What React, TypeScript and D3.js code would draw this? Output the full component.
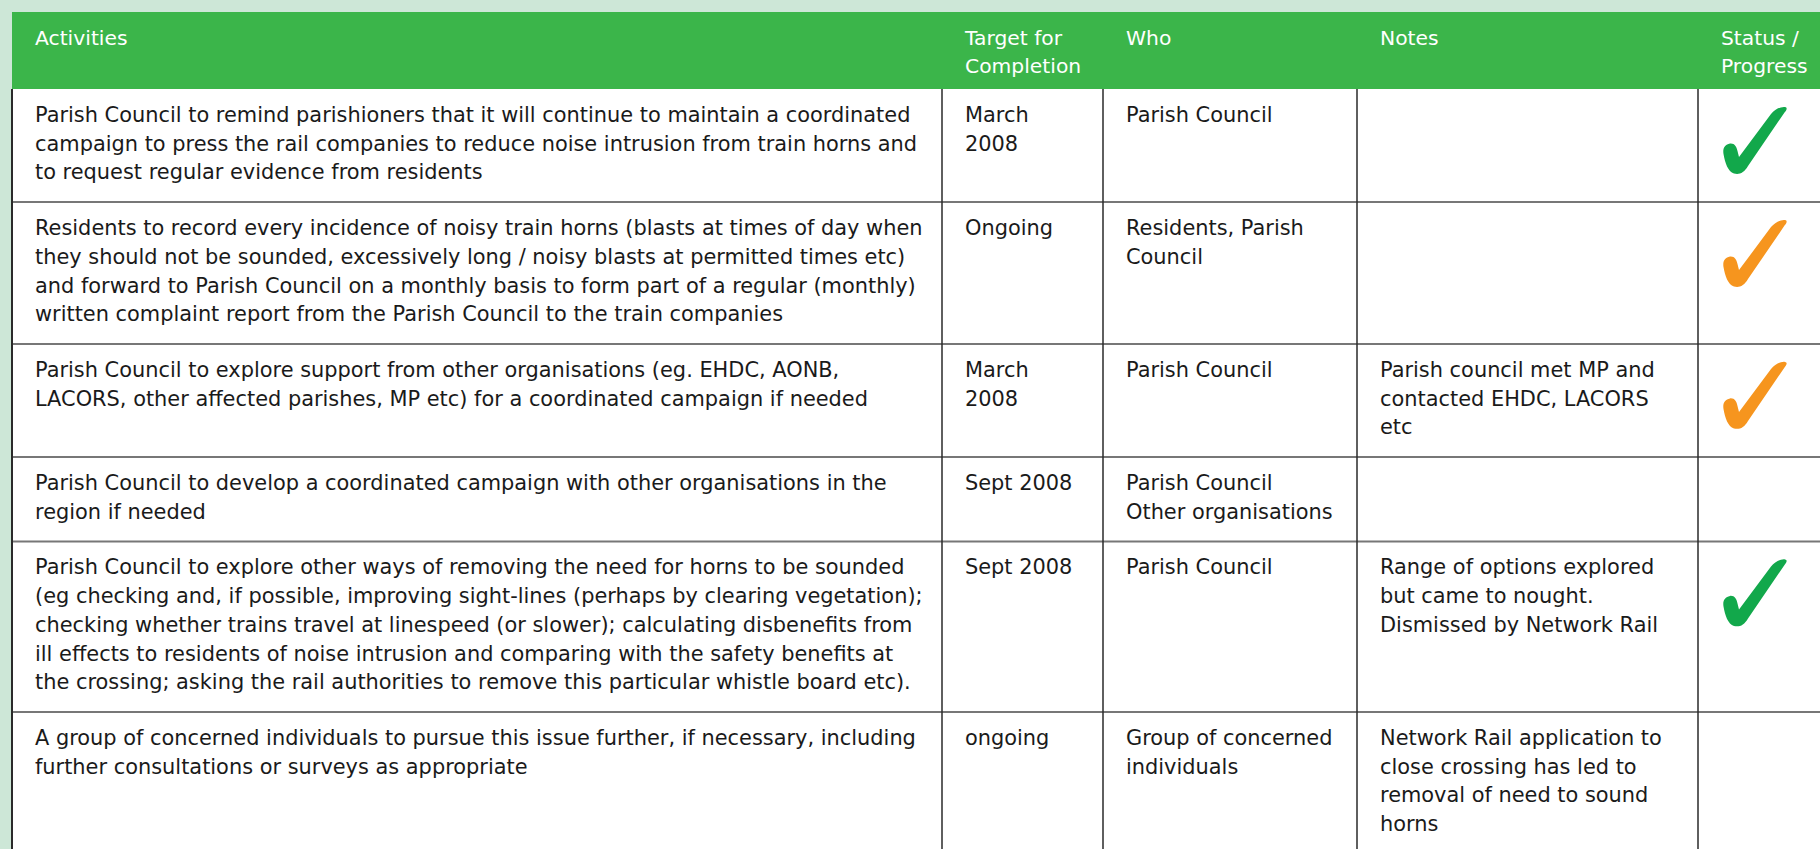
import React from "react";
import * as d3 from "d3";

// table content, line breaks as in the reference
const headers = [["Activities"], ["Target for", "Completion"], ["Who"], ["Notes"], ["Status /", "Progress"]];

const activities = [
  [
    "Parish Council to remind parishioners that it will continue to maintain a coordinated",
    "campaign to press the rail companies to reduce noise intrusion from train horns and",
    "to request regular evidence from residents",
  ],
  [
    "Residents to record every incidence of noisy train horns (blasts at times of day when",
    "they should not be sounded, excessively long / noisy blasts at permitted times etc)",
    "and forward to Parish Council on a monthly basis to form part of a regular (monthly)",
    "written complaint report from the Parish Council to the train companies",
  ],
  [
    "Parish Council to explore support from other organisations (eg. EHDC, AONB,",
    "LACORS, other affected parishes, MP etc) for a coordinated campaign if needed",
  ],
  [
    "Parish Council to develop a coordinated campaign with other organisations in the",
    "region if needed",
  ],
  [
    "Parish Council to explore other ways of removing the need for horns to be sounded",
    "(eg checking and, if possible, improving sight-lines (perhaps by clearing vegetation);",
    "checking whether trains travel at linespeed (or slower); calculating disbenefits from",
    "ill effects to residents of noise intrusion and comparing with the safety benefits at",
    "the crossing; asking the rail authorities to remove this particular whistle board etc).",
  ],
  [
    "A group of concerned individuals to pursue this issue further, if necessary, including",
    "further consultations or surveys as appropriate",
  ],
];

const targets = [["March", "2008"], ["Ongoing"], ["March", "2008"], ["Sept 2008"], ["Sept 2008"], ["ongoing"]];

const who = [
  ["Parish Council"],
  ["Residents, Parish", "Council"],
  ["Parish Council"],
  ["Parish Council", "Other organisations"],
  ["Parish Council"],
  ["Group of concerned", "individuals"],
];

const notes = [
  [],
  [],
  ["Parish council met MP and", "contacted EHDC, LACORS", "etc"],
  [],
  ["Range of options explored", "but came to nought.", "Dismissed by Network Rail"],
  ["Network Rail application to", "close crossing has led to", "removal of need to sound", "horns"],
];

// "done" = green tick, "progress" = orange tick, "" = nothing
const status = ["done", "progress", "progress", "", "done", ""];

const W = 1820;
const H = 849;
const colEdges = [12, 942, 1103, 1357, 1698, 1820];
const headerTop = 12;
const headerBottom = 89;
const lineH = 28.7;
const padTop = 33;
const padLeft = 23;
const font = "'DejaVu Sans', Verdana, sans-serif";

const tickColor: Record<string, string> = { done: "#12a84b", progress: "#f6951e" };
const tickPath =
  "M62 0 C64.5 0.5 64 3 61.5 5.5 L25 59 C21 66 16 68 11 66.5 C5 64.5 2 56 0.5 47 C-0.5 41 2 37.5 7 36.5 C11.5 36 13.5 39.5 14.5 44 L16 50 L48 7 C52 2.5 57 -0.5 62 0 Z";

function Cell({ x, y, lines, color, size }: { x: number; y: number; lines: string[]; color: string; size: number }) {
  return (
    <text x={x} y={y} fill={color} fontFamily={font} fontSize={size}>
      {lines.map((l, i) => (
        <tspan key={i} x={x} y={y + i * lineH}>
          {l}
        </tspan>
      ))}
    </text>
  );
}

export default function App() {
  const rows = d3.range(activities.length).map(i => ({
    cells: [activities[i], targets[i], who[i], notes[i]],
    status: status[i],
  }));
  const nLines = rows.map(r => d3.max(r.cells, c => c.length) || 1);
  const heights = nLines.map(n => n * lineH + 27);
  const tops = [headerBottom, ...Array.from(d3.cumsum(heights), v => headerBottom + v)];

  return (
    <svg width={W} height={H} style={{ position: "absolute", left: 0, top: 0, display: "block" }}>
      <rect x={0} y={0} width={W} height={H} fill="#cde7d7" />
      <rect x={colEdges[0]} y={headerTop} width={W - colEdges[0]} height={headerBottom - headerTop} fill="#3bb54a" />
      <rect x={colEdges[0]} y={headerBottom} width={W - colEdges[0]} height={H - headerBottom} fill="#ffffff" />

      {headers.map((h, j) => (
        <Cell key={j} x={colEdges[j] + padLeft} y={44.5} lines={h} color="#ffffff" size={20.3} />
      ))}

      {rows.map((r, i) => (
        <g key={i}>
          {r.cells.map((c, j) => (
            <Cell key={j} x={colEdges[j] + padLeft} y={tops[i] + padTop} lines={c} color="#1a1a1a" size={20.9} />
          ))}
          {r.status && (
            <path
              d={tickPath}
              fill={tickColor[r.status]}
              transform={`translate(${colEdges[4] + 25},${tops[i] + 18})`}
            />
          )}
        </g>
      ))}

      {tops.slice(1).map((t, i) => (
        <line key={i} x1={colEdges[0]} x2={W} y1={t} y2={t} stroke="#777" strokeWidth={2} />
      ))}
      {colEdges.slice(0, 5).map((x, j) => (
        <line key={j} x1={x} x2={x} y1={headerBottom} y2={H} stroke="#2a2a2a" strokeWidth={j === 0 ? 2 : 1.5} />
      ))}
    </svg>
  );
}
